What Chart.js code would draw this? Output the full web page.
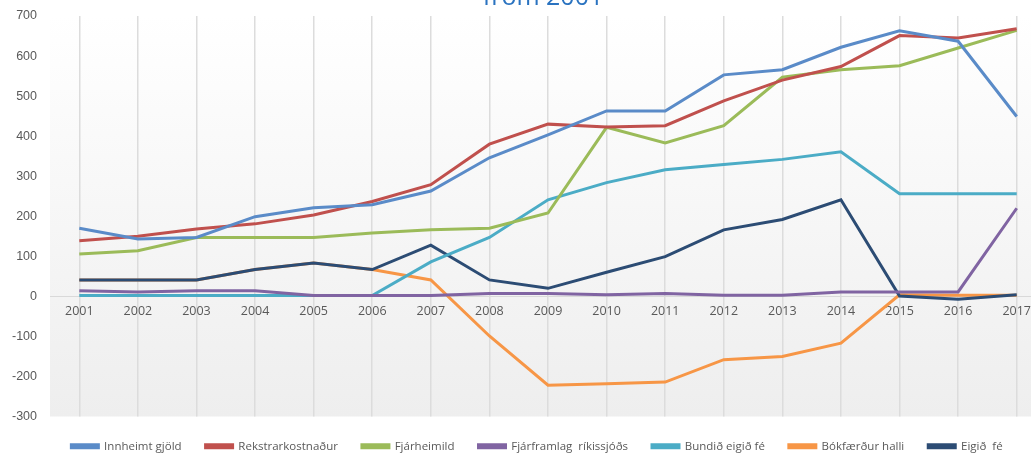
<!DOCTYPE html>
<html>
<head>
<meta charset="utf-8">
<script src="https://cdn.jsdelivr.net/npm/chart.js@4.4.1/dist/chart.umd.min.js"></script>
<style>
  html, body { margin: 0; padding: 0; background: #fff; overflow: hidden; width: 1031px; height: 454px; }
  #wrap { position: absolute; left: 0; top: -30px; width: 1050px; height: 500px; }
</style>
</head>
<body>
<div id="wrap"><canvas id="chart"></canvas></div>
<script>
var years = ['2001','2002','2003','2004','2005','2006','2007','2008','2009','2010','2011','2012','2013','2014','2015','2016','2017'];

var innheimt   = [170, 143, 147, 199, 221, 229, 263, 346, 403, 463, 463, 553, 566, 622, 663, 637, 449];
var rekstrar   = [139, 150, 168, 181, 203, 237, 279, 380, 430, 423, 426, 488, 540, 574, 651, 645, 668];
var fjarheim   = [106, 114, 147, 147, 147, 158, 166, 170, 208, 422, 383, 426, 547, 566, 576, 620, 664];
var fjarframl  = [14, 11, 14, 14, 2, 2, 2, 7, 7, 4, 7, 3, 3, 11, 11, 11, 220];
var bundid     = [2, 2, 2, 2, 2, 2, 86, 147, 241, 284, 316, 329, 342, 361, 256, 256, 256];
var bokfaerdur = [41, 41, 41, 67, 83, 67, 41, -99, -222, -218, -214, -158, -150, -117, 4, 3, 3];
var eigid      = [41, 41, 41, 67, 83, 67, 128, 41, 20, 60, 99, 166, 192, 241, 1, -7, 4];

var seriesNames = ['Innheimt gjöld', 'Rekstrarkostnaður', 'Fjárheimild', 'Fjárframlag  ríkissjóðs', 'Bundið eigið fé', 'Bókfærður halli', 'Eigið  fé'];
var seriesColors = ['#5a8bc8', '#c0504d', '#9bbb59', '#8064a2', '#4bacc6', '#f79646', '#2c4c74'];
var seriesData = [innheimt, rekstrar, fjarheim, fjarframl, bundid, bokfaerdur, eigid];

var yTicks = [-300, -200, -100, 0, 100, 200, 300, 400, 500, 600, 700];

// drawing order: orange under the navy line
var drawOrder = [0, 1, 2, 3, 4, 6, 5];

var datasets = seriesData.map(function(d, i) {
  return {
    label: seriesNames[i],
    data: d,
    borderColor: seriesColors[i],
    backgroundColor: seriesColors[i],
    borderWidth: 3,
    pointRadius: 0,
    tension: 0,
    order: drawOrder[i]
  };
});

// light grey gradient behind the plot
var plotBg = {
  id: 'plotBg',
  beforeDraw: function(chart) {
    var a = chart.chartArea, c = chart.ctx;
    var g = c.createLinearGradient(0, a.top, 0, a.bottom);
    g.addColorStop(0, '#ffffff');
    g.addColorStop(1, '#eeeeee');
    c.save();
    c.fillStyle = g;
    c.fillRect(a.left, a.top, a.right - a.left, a.bottom - a.top);
    c.restore();
  }
};

// nudge the legend row a bit to the right
var legendShift = {
  id: 'legendShift',
  afterLayout: function(chart) {
    chart.legend.left += 10;
    chart.legend.right += 10;
  }
};

// second line of the heading
var heading = {
  id: 'heading',
  afterDraw: function(chart) {
    var c = chart.ctx;
    c.save();
    c.font = '25px "Open Sans"';
    c.fillStyle = '#2a73c0';
    c.textAlign = 'center';
    c.textBaseline = 'alphabetic';
    c.fillText('from 2001', 543, 35);
    c.restore();
  }
};

new Chart(document.getElementById('chart'), {
  type: 'line',
  data: { labels: years, datasets: datasets },
  plugins: [plotBg, legendShift, heading],
  options: {
    responsive: true,
    maintainAspectRatio: false,
    animation: false,
    layout: { padding: { top: 46, left: 8, right: 4, bottom: 8 } },
    plugins: {
      title: { display: false },
      tooltip: { enabled: false },
      legend: {
        position: 'bottom',
        labels: {
          boxWidth: 27,
          boxHeight: 3,
          padding: 24,
          color: '#595959',
          font: { family: '"Open Sans"', size: 11.5 },
          sort: function(a, b) { return a.datasetIndex - b.datasetIndex; }
        }
      }
    },
    scales: {
      x: {
        type: 'category',
        offset: true,
        position: { y: 0 },
        grid: { display: true, offset: false, color: '#dcdcdc', lineWidth: 1.5, drawTicks: false },
        border: { display: true, color: '#d9d9d9', width: 1 },
        ticks: {
          padding: 8,
          color: '#595959',
          maxRotation: 0,
          autoSkip: false,
          font: { family: '"Open Sans"', size: 12.5 }
        }
      },
      y: {
        min: -300,
        max: 700,
        grid: { display: false, drawTicks: false },
        border: { display: false },
        afterBuildTicks: function(s) { s.ticks = yTicks.map(function(v) { return { value: v }; }); },
        afterFit: function(s) { s.width = 42; },
        ticks: {
          padding: 13,
          color: '#595959',
          font: { family: '"Liberation Sans"', size: 12.5 }
        }
      }
    }
  }
});
</script>
</body>
</html>
